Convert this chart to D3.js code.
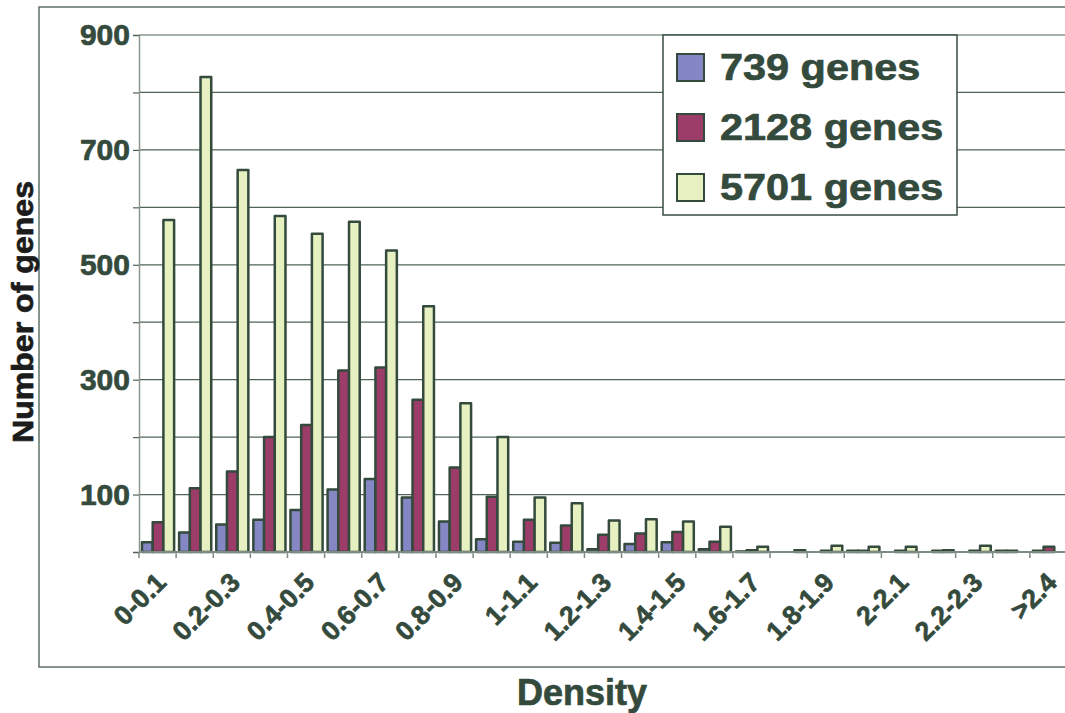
<!DOCTYPE html>
<html>
<head>
<meta charset="utf-8">
<script src="https://cdn.jsdelivr.net/npm/d3@7"></script>
<style>
  body { margin: 0; background: #fff; }
  svg { display: block; font-family: Arial, "Liberation Sans", sans-serif; font-weight: bold; }
  svg text { stroke-width: 0.7px; stroke-linejoin: round; }
</style>
</head>
<body>
<div id="chart"></div>
<script>
// Density bins (x categories)
const categories = ["0-0.1", "0.1-0.2", "0.2-0.3", "0.3-0.4", "0.4-0.5", "0.5-0.6", "0.6-0.7",
  "0.7-0.8", "0.8-0.9", "0.9-1", "1-1.1", "1.1-1.2", "1.2-1.3", "1.3-1.4", "1.4-1.5", "1.5-1.6",
  "1.6-1.7", "1.7-1.8", "1.8-1.9", "1.9-2", "2-2.1", "2.1-2.2", "2.2-2.3", "2.3-2.4", ">2.4"];
// only every other bin is labelled
const xTickLabels = ["0-0.1", "0.2-0.3", "0.4-0.5", "0.6-0.7", "0.8-0.9", "1-1.1", "1.2-1.3",
  "1.4-1.5", "1.6-1.7", "1.8-1.9", "2-2.1", "2.2-2.3", ">2.4"];

const series = ["739 genes", "2128 genes", "5701 genes"];
const genes739 = [17, 34, 48, 56, 73, 109, 127, 95, 53, 22, 18, 16, 5, 14, 17, 5, 1, 0, 0, 2, 0, 0, 0, 2, 2];
const genes2128 = [52, 111, 140, 200, 221, 316, 321, 265, 147, 96, 56, 46, 30, 32, 35, 18, 3, 0, 2, 2, 2, 2, 2, 2, 9];
const genes5701 = [578, 827, 665, 585, 554, 575, 525, 428, 259, 200, 95, 85, 55, 57, 53, 44, 9, 3, 11, 9, 9, 3, 11, 0, 0];

const yTicks = [0, 100, 200, 300, 400, 500, 600, 700, 800, 900];
const yTickLabels = [100, 300, 500, 700, 900];

const colors = ["#8487c3", "#9b3c69", "#e6f0c1"];
const ink = "#344a3c";
const font = "Arial, 'Liberation Sans', sans-serif";

const width = 1065, height = 713;
const plot = { left: 139, right: 1067, top: 35, bottom: 552 };

const svg = d3.select("#chart").append("svg")
  .attr("width", width)
  .attr("height", height);

// outer chart frame
svg.append("rect")
  .attr("x", 39).attr("y", 7)
  .attr("width", 1040).attr("height", 660)
  .attr("fill", "none")
  .attr("stroke", "#5f7064")
  .attr("stroke-width", 1.5);

// scales
const x0 = d3.scaleBand()
  .domain(categories)
  .range([plot.left, plot.right])
  .padding(0);

const x1 = d3.scaleBand()
  .domain(series)
  .range([3, x0.bandwidth() - 2])
  .padding(0);

const y = d3.scaleLinear()
  .domain([0, 900])
  .range([plot.bottom, plot.top]);

// gridlines
svg.append("g")
  .selectAll("line")
  .data(yTicks.filter(d => d > 0))
  .enter().append("line")
  .attr("x1", plot.left).attr("x2", width)
  .attr("y1", d => y(d)).attr("y2", d => y(d))
  .attr("stroke", "#4f6455")
  .attr("stroke-width", 1.2);

// y axis
const yAxis = d3.axisLeft(y)
  .tickValues(yTicks)
  .tickSize(6)
  .tickPadding(3)
  .tickFormat(d => yTickLabels.includes(d) ? d : "");

const gy = svg.append("g")
  .attr("transform", `translate(${plot.left},0)`)
  .call(yAxis)
  .attr("font-family", font)
  .attr("font-weight", "bold");
gy.select(".domain").attr("stroke", "#8a978d").attr("stroke-width", 1.5);
gy.selectAll(".tick line").attr("stroke", "#4f6455").attr("stroke-width", 1.2);
gy.selectAll(".tick text")
  .attr("fill", ink)
  .attr("stroke", ink)
  .style("font-size", "30px");

// bars
const rows = categories.map((c, i) => ({
  cat: c,
  values: [genes739[i], genes2128[i], genes5701[i]]
}));

const groups = svg.append("g")
  .selectAll("g")
  .data(rows)
  .enter().append("g")
  .attr("transform", d => `translate(${x0(d.cat)},0)`);

groups.selectAll("rect")
  .data(d => d.values.map((v, j) => ({ key: series[j], value: v, j: j })))
  .enter().append("rect")
  .attr("x", d => x1(d.key))
  .attr("y", d => y(d.value))
  .attr("width", x1.bandwidth())
  .attr("height", d => y(0) - y(d.value))
  .attr("fill", d => colors[d.j])
  .attr("stroke", ink)
  .attr("stroke-width", 2.5)
  .attr("stroke-linejoin", "round");

// x axis: baseline, boundary ticks, labels
svg.append("line")
  .attr("x1", plot.left).attr("x2", width)
  .attr("y1", plot.bottom).attr("y2", plot.bottom)
  .attr("stroke", "#7d8b81")
  .attr("stroke-width", 2);

svg.append("g")
  .selectAll("line")
  .data(categories)
  .enter().append("line")
  .attr("x1", d => x0(d)).attr("x2", d => x0(d))
  .attr("y1", plot.bottom).attr("y2", plot.bottom + 6)
  .attr("stroke", "#7d8b81")
  .attr("stroke-width", 1.5);

const xAxis = d3.axisBottom(x0)
  .tickSize(0)
  .tickFormat(d => xTickLabels.includes(d) ? d : "");

const gx = svg.append("g")
  .attr("transform", `translate(0,${plot.bottom})`)
  .call(xAxis)
  .attr("font-family", font)
  .attr("font-weight", "bold");
gx.select(".domain").remove();
gx.selectAll(".tick text")
  .attr("fill", ink)
  .attr("stroke", ink)
  .attr("y", 0).attr("dy", 0)
  .attr("text-anchor", "end")
  .attr("transform", "translate(10,32) rotate(-45)")
  .style("font-size", "26.5px");

// axis titles
svg.append("text")
  .attr("x", 582).attr("y", 705)
  .attr("text-anchor", "middle")
  .attr("fill", ink)
  .attr("stroke", ink)
  .style("font-size", "36px")
  .text("Density");

svg.append("text")
  .attr("transform", "translate(33,312) rotate(-90)")
  .attr("text-anchor", "middle")
  .attr("fill", "#1c1c1c")
  .attr("stroke", "#1c1c1c")
  .attr("textLength", 262)
  .attr("lengthAdjust", "spacingAndGlyphs")
  .style("font-size", "29px")
  .text("Number of genes");

// legend
const legend = svg.append("g").attr("transform", "translate(663,35)");
legend.append("rect")
  .attr("width", 294).attr("height", 180)
  .attr("fill", "#fff")
  .attr("stroke", "#3a4e40")
  .attr("stroke-width", 1.5);

const item = legend.selectAll(".item")
  .data(series)
  .enter().append("g")
  .attr("class", "item")
  .attr("transform", (d, i) => `translate(0,${19 + i * 60})`);

item.append("rect")
  .attr("x", 14).attr("y", 0)
  .attr("width", 27).attr("height", 27)
  .attr("fill", (d, i) => colors[i])
  .attr("stroke", ink)
  .attr("stroke-width", 2);

item.append("text")
  .attr("transform", "translate(57,26) scale(1.12,1)")
  .attr("fill", ink)
  .attr("stroke", ink)
  .style("font-size", "37px")
  .text(d => d);
</script>
</body>
</html>
